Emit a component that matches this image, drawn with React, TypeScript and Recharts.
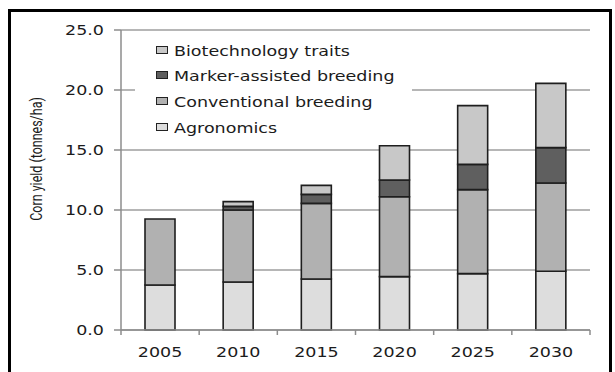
import { BarChart, Bar, XAxis, YAxis, CartesianGrid, Legend } from "recharts"

const years = ["2005", "2010", "2015", "2020", "2025", "2030"]
const agronomics = [3.75, 4.0, 4.25, 4.45, 4.7, 4.9]
const conventional = [5.5, 6.0, 6.3, 6.65, 7.0, 7.35]
const markerAssisted = [0, 0.3, 0.75, 1.4, 2.1, 2.95]
const biotech = [0, 0.4, 0.75, 2.85, 4.9, 5.35]
const yTicks = [0, 5, 10, 15, 20, 25]
const legendOrder = ["Biotechnology traits", "Marker-assisted breeding", "Conventional breeding", "Agronomics"]

const data = years.map((year, i) => ({
  year,
  agronomics: agronomics[i],
  conventional: conventional[i],
  marker: markerAssisted[i],
  biotech: biotech[i],
}))

const W = 615
const H = 372
const M = { top: 30, right: 25, left: 0, bottom: 0 }
const Y_W = 121
const X_H = 42
const PLOT_W = W - Y_W - M.right
const BAND = PLOT_W / years.length
const SX = 1.25
const FONT = "'DejaVu Sans', Verdana, sans-serif"
const TXT = "#1c1c1c"
const AXIS = "#8c8c8c"

function YTick({ x, y, payload }: any) {
  return (
    <g>
      <line x1={x - 7} x2={x} y1={y} y2={y} stroke={AXIS} strokeWidth={1.5} />
      <g transform={`translate(${x - 17},${y})`}>
        <text transform={`scale(${SX},1)`} textAnchor="end" dy="0.36em" fontSize={14} fontFamily={FONT} fill={TXT}>
          {Number(payload.value).toFixed(1)}
        </text>
      </g>
    </g>
  )
}

function XTick({ x, y, payload, index }: any) {
  const left = x - BAND / 2
  const right = x + BAND / 2
  return (
    <g>
      <line x1={left} x2={left} y1={y} y2={y + 5} stroke={AXIS} strokeWidth={1.5} />
      {index === years.length - 1 && <line x1={right} x2={right} y1={y} y2={y + 5} stroke={AXIS} strokeWidth={1.5} />}
      <g transform={`translate(${x},${y + 27})`}>
        <text transform={`scale(${SX},1)`} textAnchor="middle" fontSize={14} fontFamily={FONT} fill={TXT}>
          {payload.value}
        </text>
      </g>
    </g>
  )
}

function LegendBox({ payload }: any) {
  const items = [...(payload || [])].sort((a: any, b: any) => legendOrder.indexOf(a.value) - legendOrder.indexOf(b.value))
  return (
    <div style={{ position: "relative", width: 277, height: 106, background: "#fff" }}>
      {items.map((it: any, i: number) => (
        <div key={it.value} style={{ position: "absolute", left: 0, top: 14.7 + 25.67 * i - 10, height: 20, width: 277 }}>
          <div style={{
            position: "absolute", left: 21, top: 5, width: 10, height: 6,
            background: it.color, border: "1.5px solid #222",
          }} />
          <div style={{
            position: "absolute", left: 39, top: 0, lineHeight: "20px", whiteSpace: "nowrap",
            fontFamily: FONT, fontSize: 14, color: TXT,
            transform: `scale(${SX},1)`, transformOrigin: "left center",
          }}>{it.value}</div>
        </div>
      ))}
    </div>
  )
}

export default function App() {
  return (
    <div style={{ position: "absolute", left: 0, top: 0, width: W, height: H, background: "#fff" }}>
      <div style={{
        position: "absolute", left: 8, top: 9, width: 598, height: 363,
        borderLeft: "3px solid #000", borderTop: "3px solid #000", borderRight: "3px solid #000",
      }} />
      <BarChart width={W} height={H} data={data} margin={M} barSize={30}>
        <CartesianGrid vertical={false} stroke="#9e9e9e" strokeWidth={1.4} />
        <XAxis
          dataKey="year" height={X_H} tickSize={0} tickMargin={0} tickLine={false}
          axisLine={{ stroke: AXIS, strokeWidth: 1.5 }} tick={<XTick />} interval={0}
        />
        <YAxis
          width={Y_W} domain={[0, 25]} ticks={yTicks} interval={0} tickSize={0} tickMargin={0} tickLine={false}
          axisLine={{ stroke: AXIS, strokeWidth: 1.5 }} tick={<YTick />}
        />
        <Legend
          layout="vertical" align="center" verticalAlign="middle" content={<LegendBox />}
          wrapperStyle={{ left: 135, top: 36, width: 277, height: 106 }}
        />
        <Bar dataKey="agronomics" name="Agronomics" stackId="a" fill="#dddddd" stroke="#1e1e1e" strokeWidth={1.6} isAnimationActive={false} />
        <Bar dataKey="conventional" name="Conventional breeding" stackId="a" fill="#b1b1b1" stroke="#1e1e1e" strokeWidth={1.6} isAnimationActive={false} />
        <Bar dataKey="marker" name="Marker-assisted breeding" stackId="a" fill="#5f5f5f" stroke="#1e1e1e" strokeWidth={1.6} isAnimationActive={false} />
        <Bar dataKey="biotech" name="Biotechnology traits" stackId="a" fill="#c8c8c8" stroke="#1e1e1e" strokeWidth={1.6} isAnimationActive={false} />
      </BarChart>
      <svg width={W} height={H} style={{ position: "absolute", left: 0, top: 0, pointerEvents: "none" }}>
        <g transform="translate(37,159)">
          <text transform={`scale(${SX},1) rotate(-90)`} textAnchor="middle" dy="0.35em" fontSize={12.5} fontFamily="Roboto, sans-serif" fill={TXT}>
            Corn yield (tonnes/ha)
          </text>
        </g>
      </svg>
    </div>
  )
}
